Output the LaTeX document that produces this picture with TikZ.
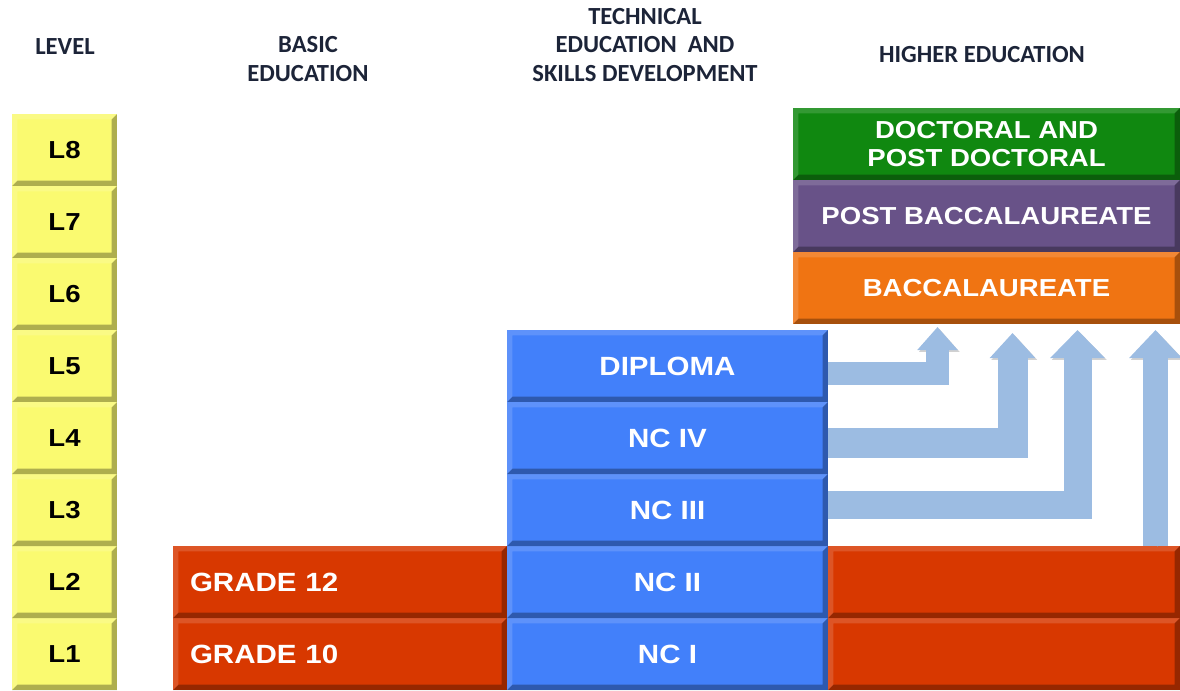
\documentclass[tikz,border=0pt]{standalone}
\usepackage{fontspec}
\setmainfont{Liberation Sans}
\newfontfamily\boxfont[FakeStretch=1.12]{Liberation Sans}
\newfontfamily\headfont{Carlito}
\usetikzlibrary{arrows.meta}

\definecolor{levelyellow}{RGB}{250,250,112}
\definecolor{tvetblue}{RGB}{66,128,250}
\definecolor{basicred}{RGB}{216,56,0}
\definecolor{baccorange}{RGB}{240,116,18}
\definecolor{postpurple}{RGB}{104,82,136}
\definecolor{doctgreen}{RGB}{16,136,16}
\definecolor{pathblue}{RGB}{156,188,226}
\definecolor{headtext}{RGB}{28,36,56}

\tikzset{
	% light top/left edge, dark bottom/right edge
	bevel/.style={path picture={
		\fill[black,opacity=.3] (path picture bounding box.south west) -- (path picture bounding box.south east) -- (path picture bounding box.north east) -- ([xshift=-3pt,yshift=-3pt]path picture bounding box.north east) -- ([xshift=-3pt,yshift=3pt]path picture bounding box.south east) -- ([xshift=3pt,yshift=3pt]path picture bounding box.south west) -- cycle;
		\fill[white,opacity=.15] (path picture bounding box.north west) -- (path picture bounding box.north east) -- ([xshift=-3pt,yshift=-3pt]path picture bounding box.north east) -- ([xshift=3pt,yshift=-3pt]path picture bounding box.north west) -- ([xshift=3pt,yshift=3pt]path picture bounding box.south west) -- (path picture bounding box.south west) -- cycle;
	}},
	level/.style={fill=levelyellow, bevel, minimum width=2.1cm, minimum height=1.44cm, inner sep=0pt, font=\boxfont\fontsize{14}{16}\selectfont\bfseries},
	tier/.style={fill=#1, bevel, text=white, minimum height=1.44cm, inner sep=0pt, font=\boxfont\fontsize{15}{16}\selectfont\bfseries},
	higher/.style={tier=#1, minimum width=7.74cm, font=\boxfont\fontsize{14}{16}\selectfont\bfseries},
	header/.style={font=\headfont\fontsize{14}{16}\selectfont\bfseries, text=headtext, align=center},
	pathway/.style={draw=pathblue, line join=miter,
		preaction={draw=black!40, opacity=.45, transform canvas={xshift=1pt,yshift=-1pt}}},
}

\begin{document}
\begin{tikzpicture}[x=0.02cm, y=-0.02cm]
	\useasboundingbox (0,0) rectangle (1180,690);
	
	% Column headings
	\node[header] (hlevel) at (65,47) {LEVEL};
	\node[header] (hbasic) at (308,59) {BASIC\\EDUCATION};
	\node[header] (htesd) at (645,45) {TECHNICAL\\EDUCATION\ \ AND\\SKILLS DEVELOPMENT};
	\node[header] (hhigher) at (982,55) {HIGHER EDUCATION};
	
	% Levels L1 to L8
	\foreach \k in {1,...,8}
		\node[level] (lv\k) at (64.5,{726-72*\k}) {L\k};
	
	% Basic education
	\node[tier=basicred, minimum width=6.68cm, text width=6cm, inner xsep=0.34cm, align=left] (grade10) at (340,654) {GRADE 10};
	\node[tier=basicred, minimum width=6.68cm, text width=6cm, inner xsep=0.34cm, align=left] (grade12) at (340,582) {GRADE 12};
	\node[tier=basicred, minimum width=7.04cm] (open1) at (1004,654) {};
	\node[tier=basicred, minimum width=7.04cm] (open2) at (1004,582) {};
	
	% Technical education and skills development
	\node[tier=tvetblue, minimum width=6.42cm] (nci) at (667.5,654) {NC I};
	\node[tier=tvetblue, minimum width=6.42cm] (ncii) at (667.5,582) {NC II};
	\node[tier=tvetblue, minimum width=6.42cm] (nciii) at (667.5,510) {NC III};
	\node[tier=tvetblue, minimum width=6.42cm] (nciv) at (667.5,438) {NC IV};
	\node[tier=tvetblue, minimum width=6.42cm] (diploma) at (667.5,366) {DIPLOMA};
	
	% Higher education
	\node[higher=baccorange] (bacc) at (986.5,288) {BACCALAUREATE};
	\node[higher=postpurple] (postbacc) at (986.5,216) {POST BACCALAUREATE};
	\node[higher=doctgreen, align=center] (doctoral) at (986.5,144) {DOCTORAL AND\\POST DOCTORAL};
	
	% Pathways up to the baccalaureate
	\coordinate (tip1) at (937.5,327);
	\coordinate (tip2) at (1012.5,333);
	\coordinate (tip3) at (1077.5,330);
	\coordinate (tip4) at (1155.5,330);
	
	\draw[pathway, line width=0.47cm, -{Triangle[width=0.78cm, length=0.46cm]}] ([yshift=-0.15cm]diploma.east) -| (tip1);
	\draw[pathway, line width=0.6cm, -{Triangle[width=0.88cm, length=0.5cm]}] ([yshift=-0.09cm]nciv.east) -| (tip2);
	\draw[pathway, line width=0.56cm, -{Triangle[width=1.06cm, length=0.56cm]}] ([yshift=0.1cm]nciii.east) -| (tip3);
	\draw[pathway, line width=0.5cm, -{Triangle[width=1.02cm, length=0.56cm]}] (open2.north -| tip4) -- (tip4);
\end{tikzpicture}
\end{document}
